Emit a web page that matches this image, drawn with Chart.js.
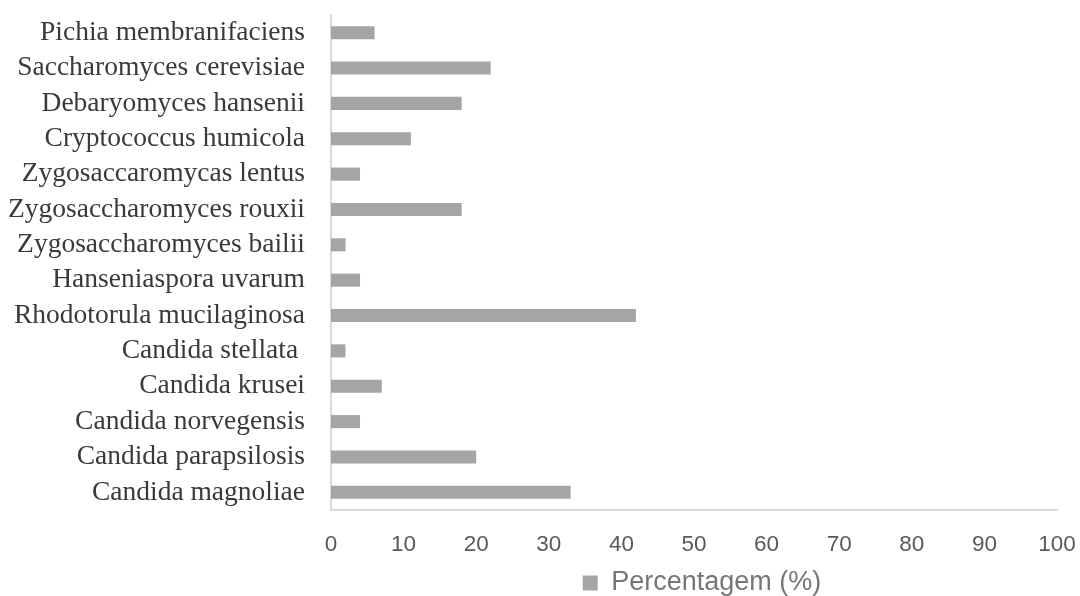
<!DOCTYPE html>
<html>
<head>
<meta charset="utf-8">
<script src="https://cdn.jsdelivr.net/npm/chart.js@4/dist/chart.umd.min.js"></script>
<style>
  html, body { margin: 0; padding: 0; background: #ffffff; }
  #wrap { width: 1080px; height: 596px; }
</style>
</head>
<body>
<div id="wrap"><canvas id="chart" width="1080" height="596"></canvas></div>
<script>
// Yeast species, listed top to bottom
const species = [
  'Pichia membranifaciens',
  'Saccharomyces cerevisiae',
  'Debaryomyces hansenii',
  'Cryptococcus humicola',
  'Zygosaccaromycas lentus',
  'Zygosaccharomyces rouxii',
  'Zygosaccharomyces bailii',
  'Hanseniaspora uvarum',
  'Rhodotorula mucilaginosa',
  'Candida stellata ',
  'Candida krusei',
  'Candida norvegensis',
  'Candida parapsilosis',
  'Candida magnoliae'
];

// Percentage of isolates for each species
const percentagem = [6, 22, 18, 11, 4, 18, 2, 4, 42, 2, 7, 4, 20, 33];

// Horizontal axis range and step
const xMin = 0;
const xMax = 100;
const xStep = 10;

const seriesName = 'Percentagem (%)';

// Nudges the bottom legend slightly right of the plot-area centre
const legendShift = {
  id: 'legendShift',
  afterLayout(chart) {
    const lg = chart.legend;
    if (lg) { lg.left += 8; lg.right += 8; }
  }
};

new Chart(document.getElementById('chart'), {
  type: 'bar',
  data: {
    labels: species,
    datasets: [{
      label: seriesName,
      data: percentagem,
      backgroundColor: '#a5a5a5',
      borderWidth: 0,
      categoryPercentage: 1,
      barPercentage: 0.37
    }]
  },
  options: {
    indexAxis: 'y',
    responsive: false,
    animation: false,
    layout: { padding: { left: 0, right: 23, top: 15, bottom: -10.5 } },
    scales: {
      x: {
        min: xMin,
        max: xMax,
        grid: { display: false, drawTicks: false },
        border: { display: true, color: '#d9d9d9', width: 2 },
        ticks: {
          stepSize: xStep,
          padding: 21,
          color: '#595959',
          font: { family: '"Liberation Sans", Arial, sans-serif', size: 22.5 },
          maxRotation: 0
        },
        afterFit: (scale) => {
          scale.height = 49.5;
          scale.paddingLeft = 0;
          scale.paddingRight = 0;
        }
      },
      y: {
        grid: { display: false, drawTicks: false },
        border: { display: true, color: '#d9d9d9', width: 2 },
        ticks: {
          padding: 26,
          color: '#3a3a3a',
          font: { family: '"Liberation Serif", "Times New Roman", serif', size: 27.5 },
          autoSkip: false
        },
        afterFit: (scale) => {
          scale.width = 331;
          scale.paddingTop = 0;
          scale.paddingBottom = 0;
        }
      }
    },
    plugins: {
      legend: {
        display: true,
        position: 'bottom',
        fullSize: false,
        labels: {
          boxWidth: 15,
          boxHeight: 15,
          padding: 10,
          color: '#767676',
          font: { family: '"Liberation Sans", Arial, sans-serif', size: 27 }
        }
      },
      tooltip: { enabled: false }
    }
  },
  plugins: [legendShift]
});
</script>
</body>
</html>
